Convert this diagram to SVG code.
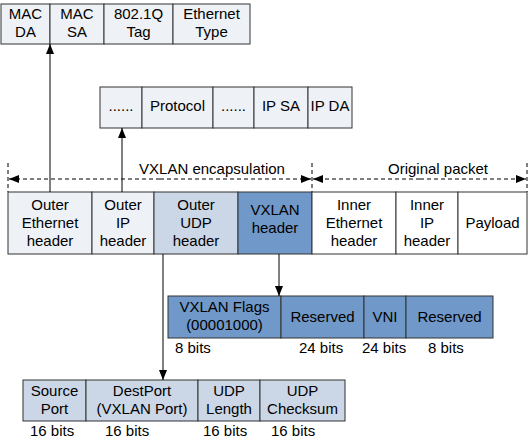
<svg xmlns="http://www.w3.org/2000/svg" width="529" height="442" viewBox="0 0 529 442">
<defs>
<marker id="ah" markerWidth="10" markerHeight="8" refX="10" refY="4" orient="auto" markerUnits="userSpaceOnUse">
<path d="M0,0 L10,4 L0,8 Z" fill="#000"/>
</marker>
<style>
text{font-family:"Liberation Sans",Arial,sans-serif;font-size:15px;fill:#000;text-anchor:middle}
text.l{text-anchor:start}
rect{stroke:#333;stroke-width:1}
.lt{fill:#EEF1F6}
.md{fill:#CBD6E6}
.dk{fill:#7098C8}
.wh{fill:#fff}
.c{stroke:#000;stroke-width:1;fill:none}
.d{stroke:#000;stroke-width:1;fill:none;stroke-dasharray:4,3}
</style>
</defs>
<rect width="529" height="442" fill="#fff" style="stroke:none"/>

<g id="eth-fields">
<rect class="lt" x="1" y="4" width="49" height="40"/>
<rect class="lt" x="50" y="4" width="54" height="40"/>
<rect class="lt" x="104" y="4" width="69" height="40"/>
<rect class="lt" x="173" y="4" width="77" height="40"/>
<text x="25.5" y="19">MAC</text><text x="25.5" y="37">DA</text>
<text x="77" y="19">MAC</text><text x="77" y="37">SA</text>
<text x="138.5" y="19">802.1Q</text><text x="138.5" y="37">Tag</text>
<text x="211.5" y="19">Ethernet</text><text x="211.5" y="37">Type</text>
</g>

<g id="ip-fields">
<rect class="lt" x="100" y="87" width="42" height="41"/>
<rect class="lt" x="142" y="87" width="71" height="41"/>
<rect class="lt" x="213" y="87" width="41" height="41"/>
<rect class="lt" x="254" y="87" width="54" height="41"/>
<rect class="lt" x="308" y="87" width="44" height="41"/>
<text x="121" y="111">......</text>
<text x="177.5" y="111">Protocol</text>
<text x="233.5" y="111">......</text>
<text x="281" y="111">IP SA</text>
<text x="330" y="111">IP DA</text>
</g>

<g id="spans">
<line class="d" x1="8" y1="163" x2="8" y2="192"/>
<line class="d" x1="312" y1="163" x2="312" y2="192"/>
<line class="d" x1="527" y1="163" x2="527" y2="192"/>
<line class="d" x1="160" y1="179" x2="9" y2="179" marker-end="url(#ah)"/>
<line class="d" x1="160" y1="179" x2="311" y2="179" marker-end="url(#ah)"/>
<line class="d" x1="420" y1="179" x2="313" y2="179" marker-end="url(#ah)"/>
<line class="d" x1="420" y1="179" x2="526" y2="179" marker-end="url(#ah)"/>
<text x="212" y="174">VXLAN encapsulation</text>
<text x="438" y="174">Original packet</text>
</g>

<g id="packet">
<rect class="lt" x="8" y="192" width="84" height="62"/>
<rect class="lt" x="92" y="192" width="62" height="62"/>
<rect class="md" x="154" y="192" width="84" height="62"/>
<rect class="dk" x="238" y="192" width="74" height="62"/>
<rect class="wh" x="312" y="192" width="84" height="62"/>
<rect class="wh" x="396" y="192" width="62" height="62"/>
<rect class="wh" x="458" y="192" width="69" height="62"/>
<text x="50" y="210">Outer</text><text x="50" y="228">Ethernet</text><text x="50" y="246">header</text>
<text x="123" y="210">Outer</text><text x="123" y="228">IP</text><text x="123" y="246">header</text>
<text x="196" y="210">Outer</text><text x="196" y="228">UDP</text><text x="196" y="246">header</text>
<text x="275" y="215">VXLAN</text><text x="275" y="233">header</text>
<text x="354" y="210">Inner</text><text x="354" y="228">Ethernet</text><text x="354" y="246">header</text>
<text x="427" y="210">Inner</text><text x="427" y="228">IP</text><text x="427" y="246">header</text>
<text x="492.5" y="228">Payload</text>
</g>

<g id="vxlan-fields">
<rect class="dk" x="168" y="296" width="113" height="42"/>
<rect class="dk" x="281" y="296" width="83" height="42"/>
<rect class="dk" x="364" y="296" width="42" height="42"/>
<rect class="dk" x="406" y="296" width="87" height="42"/>
<text x="224.5" y="312">VXLAN Flags</text><text x="224.5" y="330">(00001000)</text>
<text x="322.5" y="322">Reserved</text>
<text x="385" y="322">VNI</text>
<text x="449.5" y="322">Reserved</text>
<text class="l" x="175" y="353">8 bits</text>
<text class="l" x="299" y="353">24 bits</text>
<text class="l" x="362" y="353">24 bits</text>
<text class="l" x="428" y="353">8 bits</text>
</g>

<g id="udp-fields">
<rect class="md" x="23" y="380" width="63" height="41"/>
<rect class="md" x="86" y="380" width="112" height="41"/>
<rect class="md" x="198" y="380" width="62" height="41"/>
<rect class="md" x="260" y="380" width="85" height="41"/>
<text x="54.5" y="396">Source</text><text x="54.5" y="414">Port</text>
<text x="142" y="396">DestPort</text><text x="142" y="414">(VXLAN Port)</text>
<text x="229" y="396">UDP</text><text x="229" y="414">Length</text>
<text x="302.5" y="396">UDP</text><text x="302.5" y="414">Checksum</text>
<text class="l" x="30" y="436">16 bits</text>
<text class="l" x="105" y="436">16 bits</text>
<text class="l" x="203" y="436">16 bits</text>
<text class="l" x="271" y="436">16 bits</text>
</g>

<g id="connectors">
<line class="c" x1="50" y1="192" x2="50" y2="44" marker-end="url(#ah)"/>
<line class="c" x1="122" y1="192" x2="122" y2="128" marker-end="url(#ah)"/>
<line class="c" x1="279" y1="254" x2="279" y2="296" marker-end="url(#ah)"/>
<line class="c" x1="163" y1="254" x2="163" y2="380" marker-end="url(#ah)"/>
</g>
</svg>
